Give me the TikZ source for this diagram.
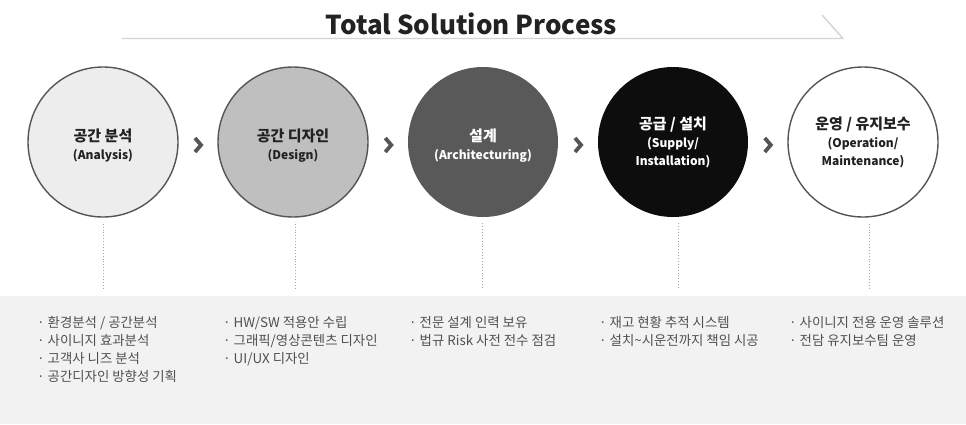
\documentclass[tikz,border=0pt]{standalone}
\usepackage{fontspec}
\setmainfont{Noto Sans CJK KR}
\usetikzlibrary{positioning}

\definecolor{ink}{HTML}{222222}
\definecolor{rim}{HTML}{555555}
\definecolor{band}{HTML}{F2F2F2}
\definecolor{note}{HTML}{505050}
\definecolor{rule}{HTML}{D4D4D4}

\newcommand{\stagetext}[3][13pt]{{\fontsize{15}{19}\selectfont\rule{0pt}{#1}#2}\\#3}

\begin{document}
\begin{tikzpicture}[x=1pt,y=-1pt,node distance=190pt,on grid,
      stage/.style={circle,minimum size=150pt,inner sep=0pt,align=center,
        font=\bfseries\fontsize{12}{18}\selectfont,text=ink},
      chev/.style={draw=rim,line width=3.8pt,miter limit=10},
      dotline/.style={draw=gray!70,line width=0.9pt,dash pattern=on 0.9pt off 2pt},
      notes/.style={anchor=north west,inner sep=0pt,align=left,text=note,
        font=\fontsize{13.4}{18}\selectfont}]
      \useasboundingbox (0,0) rectangle (966,424);
      \fill[band] (0,296) rectangle (966,424);
      % title
      \node[text=ink,font=\bfseries\fontsize{26}{30}\selectfont] (title) at (471.5,24) {Total Solution Process};
      \draw[rule,line width=1.4pt] (122,38.5) -- (843,38.5) -- (822,15);
      % stages
      \node[stage,draw=rim,line width=1.4pt,fill=black!7] (c1) at (103,142) {\stagetext[19pt]{공간 분석}{(Analysis)}};
      \node[stage,draw=rim,line width=1.4pt,fill=black!25] (c2) [right=of c1] {\stagetext[19pt]{공간 디자인}{(Design)}};
      \node[stage,fill=black!65,text=white] (c3) [right=of c2] {\stagetext[19pt]{설계}{(Architecturing)}};
      \node[stage,fill=black!95,text=white] (c4) [right=of c3] {\stagetext{공급 / 설치}{(Supply/\\Installation)}};
      \node[stage,draw=rim,line width=1.4pt,fill=white] (c5) [right=of c4] {\stagetext{운영 / 유지보수}{(Operation/\\Maintenance)}};
      \foreach \a/\b [count=\i] in {c1/c2,c2/c3,c3/c4,c4/c5}{
        \path (\a) -- (\b) coordinate[midway] (m\i);
        \draw[chev] ([xshift=-3pt,yshift=4pt]m\i) -- ([xshift=3pt,yshift=-3pt]m\i) -- ([xshift=-3pt,yshift=-10pt]m\i);
      }
      \foreach \n/\dx in {c1/0,c2/2,c3/-1,c4/5,c5/6}
        \draw[dotline] ([xshift=\dx pt,yshift=-6pt]\n.south) -- ([xshift=\dx pt,yshift=-72pt]\n.south);
      % notes
      \node[notes] (n1) at (37,316) {· 환경분석 / 공간분석\\· 사이니지 효과분석\\· 고객사 니즈 분석\\· 공간디자인 방향성 기획};
      \node[notes] (n2) at (223,316) {· HW/SW 적용안 수립\\· 그래픽/영상콘텐츠 디자인\\· UI/UX 디자인};
      \node[notes] (n3) at (409,316) {· 전문 설계 인력 보유\\· 법규 Risk 사전 전수 점검};
      \node[notes] (n4) at (599,316) {· 재고 현황 추적 시스템\\· 설치\textasciitilde 시운전까지 책임 시공};
      \node[notes] (n5) at (789,316) {· 사이니지 전용 운영 솔루션\\· 전담 유지보수팀 운영};
\end{tikzpicture}
\end{document}
